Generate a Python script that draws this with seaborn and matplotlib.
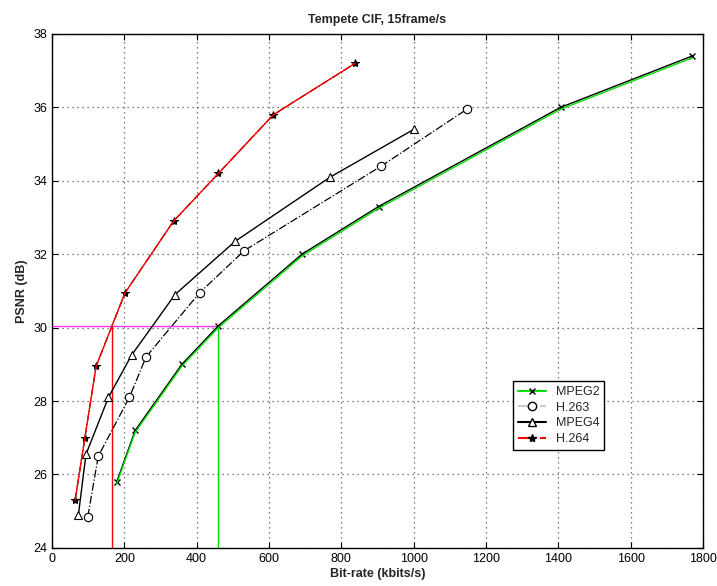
import numpy as np
import pandas as pd
import matplotlib
matplotlib.use("Agg")
import matplotlib.pyplot as plt
from matplotlib.lines import Line2D
import seaborn as sns

# rate-distortion points
mpeg2_rate = [179, 230, 359, 460, 691, 903, 1406, 1770]
mpeg2_psnr = [25.8, 27.2, 29.0, 30.05, 32.0, 33.3, 36.0, 37.4]

h263_rate = [99, 128, 214, 260, 408, 532, 910, 1147]
h263_psnr = [24.85, 26.5, 28.1, 29.2, 30.95, 32.1, 34.4, 35.95]

mpeg4_rate = [73, 94, 156, 220, 340, 506, 769, 1000]
mpeg4_psnr = [24.9, 26.55, 28.1, 29.25, 30.9, 32.35, 34.1, 35.4]

h264_rate = [64, 91, 122, 202, 336, 460, 612, 838]
h264_psnr = [25.3, 27.0, 28.95, 30.95, 32.9, 34.2, 35.8, 37.2]

# equal-quality reference at 30 dB
ref_psnr = 30.05
ref_rate_h264 = 165
ref_rate_mpeg2 = 460

sns.set_style("white")
plt.rcParams["font.family"] = ["Liberation Sans", "DejaVu Sans"]

fig = plt.figure(figsize=(7.17, 5.86), dpi=100)
ax = fig.add_axes([0.0725, 0.065, 0.908, 0.877])

# MPEG2: black line with x markers, green curve on top
sns.lineplot(x=mpeg2_rate, y=mpeg2_psnr, ax=ax, sort=False, color="black",
             linewidth=1.0, marker="x", markersize=5, markeredgecolor="black",
             markeredgewidth=1.0, zorder=3)
sns.lineplot(x=mpeg2_rate, y=[p - 0.05 for p in mpeg2_psnr], ax=ax, sort=False,
             color="#00dd00", linewidth=1.0, zorder=4)

# H.263: dash-dot with open circles
sns.lineplot(x=h263_rate, y=h263_psnr, ax=ax, sort=False, color="black",
             linewidth=0.9, linestyle="-.", marker="o", markersize=6,
             markerfacecolor="white", markeredgecolor="black",
             markeredgewidth=0.8, zorder=3)

# MPEG4: solid with open triangles
sns.lineplot(x=mpeg4_rate, y=mpeg4_psnr, ax=ax, sort=False, color="black",
             linewidth=1.0, marker="^", markersize=6, markerfacecolor="white",
             markeredgecolor="black", markeredgewidth=0.8, zorder=3)

# H.264: red curve with star markers
sns.lineplot(x=h264_rate, y=h264_psnr, ax=ax, sort=False, color="black",
             linewidth=0.9, linestyle="-.", marker="*", markersize=6,
             markeredgecolor="black", markerfacecolor="black", zorder=3)
sns.lineplot(x=h264_rate, y=h264_psnr, ax=ax, sort=False, color="red",
             linewidth=1.0, zorder=4)

# equal-quality markers
ax.plot([0, ref_rate_mpeg2], [ref_psnr, ref_psnr], color="#ff33ff", linewidth=1.0, zorder=2)
ax.plot([ref_rate_h264, ref_rate_h264], [24, ref_psnr], color="red", linewidth=1.0, zorder=2)
ax.plot([ref_rate_mpeg2, ref_rate_mpeg2], [24, ref_psnr], color="#00dd00", linewidth=1.0, zorder=2)

ax.set_xlim(0, 1800)
ax.set_ylim(24, 38)
ax.set_xticks(np.arange(0, 1801, 200))
ax.set_yticks(np.arange(24, 39, 2))
ax.grid(True, color="#555555", linestyle=(0, (1, 3)), linewidth=0.9)
ax.tick_params(direction="in", length=4, labelsize=9, top=True, right=True,
               bottom=True, left=True, colors="black")
for s in ax.spines.values():
    s.set_color("black")
    s.set_linewidth(1.0)

ax.set_title("Tempete CIF, 15frame/s", fontsize=9, fontweight="bold", pad=8)
ax.set_xlabel("Bit-rate (kbits/s)", fontsize=9, fontweight="bold", labelpad=2)
ax.set_ylabel("PSNR (dB)", fontsize=9, fontweight="bold", labelpad=4)

handles = [
    Line2D([], [], color="#00dd00", marker="x", markeredgecolor="black", markersize=5),
    Line2D([], [], color="#cccccc", linestyle="-.", marker="o", markerfacecolor="white",
           markeredgecolor="black", markersize=6),
    Line2D([], [], color="black", marker="^", markerfacecolor="white",
           markeredgecolor="black", markersize=6),
    Line2D([], [], color="red", linestyle="-.", marker="*", markerfacecolor="black",
           markeredgecolor="black", markersize=6),
]
ax.legend(handles, ["MPEG2", "H.263", "MPEG4", "H.264"], loc="lower left",
          bbox_to_anchor=(0.699, 0.178), fontsize=9, frameon=True, fancybox=False,
          edgecolor="black", framealpha=1, handlelength=2.2, borderpad=0.4,
          labelspacing=0.3)

fig.savefig("out.png", dpi=100)
